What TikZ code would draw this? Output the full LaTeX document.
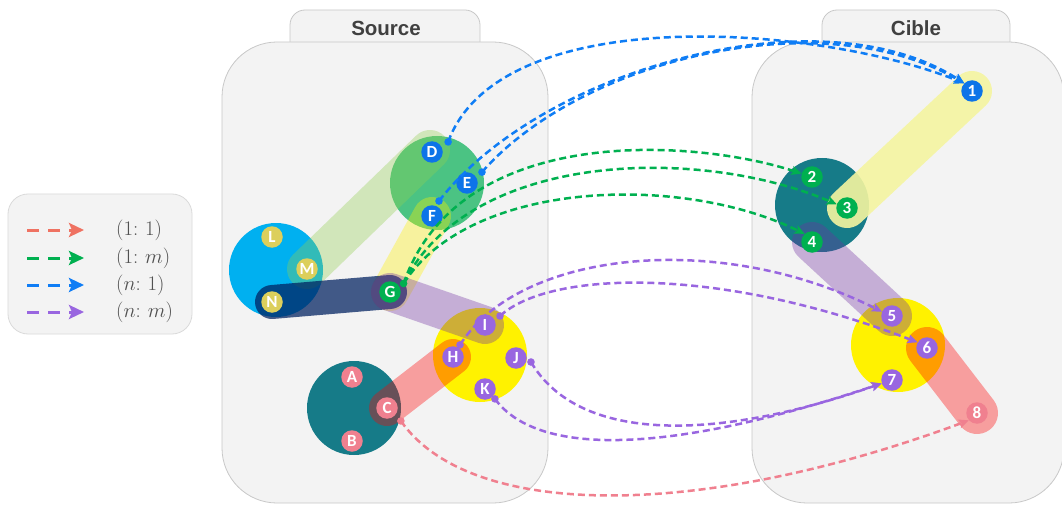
\documentclass[tikz,border=0pt]{standalone}
\usepackage{fontspec}
\newfontfamily\lblfont{Carlito}
\newfontfamily\titlefont{Liberation Sans}
\usetikzlibrary{arrows.meta,calc}
\definecolor{panelfill}{HTML}{F3F3F3}
\definecolor{panelline}{HTML}{C8C8C8}
\definecolor{legline}{HTML}{DADADA}
\definecolor{titlec}{HTML}{404040}
\definecolor{legtextc}{HTML}{505050}
\definecolor{bluec}{HTML}{0F7DF5}
\definecolor{bluelab}{HTML}{0D74E8}
\definecolor{greenc}{HTML}{00B050}
\definecolor{purplec}{HTML}{9966E0}
\definecolor{pinkc}{HTML}{F0808F}
\definecolor{salmonc}{HTML}{EF7262}
\definecolor{yellowlab}{HTML}{DCCF5C}
\definecolor{cyanc}{HTML}{00B0F0}
\definecolor{tealc}{HTML}{167B88}
\definecolor{greencirc}{HTML}{4BC383}
\definecolor{lgband}{HTML}{92D050}
\definecolor{navyband}{HTML}{002060}
\definecolor{purpband}{HTML}{7030A0}
\definecolor{paleyel}{HTML}{F5F5A0}
\tikzset{
  panel/.style={fill=panelfill, draw=panelline, line width=0.8pt},
  legbox/.style={fill=panelfill, draw=legline, line width=0.8pt, rounded corners=20pt},
  title/.style={text=titlec, font=\titlefont\bfseries\fontsize{20.5}{20.5}\selectfont},
  region/.style={circle, inner sep=0pt, minimum size=94pt},
  band/.style={line cap=round, opacity=0.35},
  lbl/.style={circle, inner sep=0pt, minimum size=21.5pt, text=white, font=\lblfont\bfseries\fontsize{17}{17}\selectfont},
  conn/.style={line width=2.5pt, dash pattern=on 7pt off 4pt, -{Stealth[length=10pt,width=9pt,inset=2pt]}},
  legarrow/.style={line width=3pt, dash pattern=on 12pt off 9pt, -{Stealth[length=15pt,width=14pt,inset=3pt]}},
  legtext/.style={anchor=west, inner sep=0pt, text=legtextc, font=\fontsize{22}{22}\selectfont},
  dotc/.style={radius=3.8pt}
}
\begin{document}
\begin{tikzpicture}[x=1pt,y=-1pt]
\useasboundingbox (0,0) rectangle (1062,505);
\fill[white] (0,0) rectangle (1062,505);

% legend
\draw[legbox] (8,194) rectangle (192,334);
\coordinate (la1) at (27,230); \coordinate (lb1) at (84,230);
\coordinate (la2) at (27,258); \coordinate (lb2) at (84,258);
\coordinate (la3) at (27,285); \coordinate (lb3) at (84,285);
\coordinate (la4) at (27,312); \coordinate (lb4) at (84,312);
\draw[legarrow, salmonc] (la1) -- (lb1);
\draw[legarrow, greenc] (la2) -- (lb2);
\draw[legarrow, bluec] (la3) -- (lb3);
\draw[legarrow, purplec] (la4) -- (lb4);
\node[legtext] (lt1) at (116,230) {$(1\colon\, 1)$};
\node[legtext] (lt2) at (116,258) {$(1\colon\, m)$};
\node[legtext] (lt3) at (116,285) {$(n\colon\, 1)$};
\node[legtext] (lt4) at (116,312) {$(n\colon\, m)$};

% tabs and panels
\filldraw[panel, rounded corners=15pt] (290,44) -- (290,10) -- (480,10) -- (480,44);
\filldraw[panel, rounded corners=15pt] (822,44) -- (822,10) -- (1010,10) -- (1010,44);
\draw[panel, rounded corners=55pt] (222,42) rectangle (548,503);
\draw[panel, rounded corners=55pt] (752,42) rectangle (1064,503);
\node[title] (srcT) at (386,28) {Source};
\node[title] (cibT) at (916,28) {Cible};

% region circles
\node[region, fill=cyanc] (rcy) at (276,270) {};
\node[region, fill=greencirc] (rgr) at (437,183) {};
\node[region, fill=tealc] (rte) at (354,408) {};
\node[region, fill=yellow] (rye) at (480,355) {};
\node[region, fill=tealc] (rte2) at (822,205) {};
\node[region, fill=yellow] (rye2) at (898,345) {};

% label positions
\coordinate (pL) at (272,237); \coordinate (pM) at (307,269); \coordinate (pN) at (272,302);
\coordinate (pD) at (432,152); \coordinate (pE) at (467,183); \coordinate (pF) at (432,216);
\coordinate (pG) at (390,292);
\coordinate (pA) at (352,377); \coordinate (pB) at (352,441); \coordinate (pC) at (387,408);
\coordinate (pH) at (453,357); \coordinate (pI) at (485,325); \coordinate (pJ) at (516,358); \coordinate (pK) at (485,389);
\coordinate (p1) at (972,91); \coordinate (p2) at (812,177); \coordinate (p3) at (847,208); \coordinate (p4) at (812,242);
\coordinate (p5) at (892,316); \coordinate (p6) at (927,348); \coordinate (p7) at (892,380); \coordinate (p8) at (977,413);

% bands
\draw[band, lgband, line width=40pt] (pM) -- (430,150);
\draw[band, yellow, line width=38pt] (pF) -- (pG);
\draw[line cap=round, navyband, opacity=0.73, line width=34pt] (pN) -- (pG);
\draw[band, purpband, line width=38pt] (pG) -- (pI);
\draw[band, red, line width=36pt] (pC) -- (pH);
\draw[line cap=round, paleyel, opacity=0.9, line width=40pt] (p3) -- (p1);
\draw[band, purpband, line width=40pt] (p4) -- (p5);
\draw[band, red, line width=42pt] (p6) -- (p8);

% labels
\node[lbl, fill=yellowlab] (L) at (pL) {L};
\node[lbl, fill=yellowlab] (M) at (pM) {M};
\node[lbl, fill=yellowlab] (N) at (pN) {N};
\node[lbl, fill=bluelab] (D) at (pD) {D};
\node[lbl, fill=bluelab] (E) at (pE) {E};
\node[lbl, fill=bluelab] (F) at (pF) {F};
\node[lbl, fill=greenc] (G) at (pG) {G};
\node[lbl, fill=pinkc] (A) at (pA) {A};
\node[lbl, fill=pinkc] (B) at (pB) {B};
\node[lbl, fill=pinkc] (C) at (pC) {C};
\node[lbl, fill=purplec] (H) at (pH) {H};
\node[lbl, fill=purplec] (I) at (pI) {I};
\node[lbl, fill=purplec] (J) at (pJ) {J};
\node[lbl, fill=purplec] (K) at (pK) {K};
\node[lbl, fill=bluelab] (n1) at (p1) {1};
\node[lbl, fill=greenc] (n2) at (p2) {2};
\node[lbl, fill=greenc] (n3) at (p3) {3};
\node[lbl, fill=greenc] (n4) at (p4) {4};
\node[lbl, fill=purplec] (n5) at (p5) {5};
\node[lbl, fill=purplec] (n6) at (p6) {6};
\node[lbl, fill=purplec] (n7) at (p7) {7};
\node[lbl, fill=pinkc] (n8) at (p8) {8};

% connector start points
\coordinate (Ds) at ($(D)+(32:19pt)$);
\coordinate (Es) at ($(E)+(36:18.5pt)$);
\coordinate (Fs) at ($(F)+(65:16.5pt)$);
\coordinate (Gs) at ($(G)+(32:16pt)$);
\coordinate (Hs) at ($(H)+(60:14pt)$);
\coordinate (Is) at ($(I)+(31:17.5pt)$);
\coordinate (Js) at ($(J)+(-15:15.5pt)$);
\coordinate (Ks) at ($(K)+(-45:14pt)$);
\coordinate (Cs) at ($(C)+(-43:19pt)$);

% connectors (n:1)
\draw[conn, bluec] (Ds) .. controls (500,0) and (820,25) .. (n1.135);
\draw[conn, bluec] (Es) .. controls (580,60) and (820,0) .. (n1.135);
\draw[conn, bluec] (Fs) .. controls (540,70) and (820,-10) .. (n1.135);
% (1:m)
\draw[conn, greenc] (Gs) .. controls (460,120) and (700,140) .. (n2.162);
\draw[conn, greenc] (Gs) .. controls (470,150) and (700,146) .. (n3.160);
\draw[conn, greenc] (Gs) .. controls (470,180) and (680,173) .. (n4.132);
% (n:m)
\draw[conn, purplec] (Hs) .. controls (520,250) and (720,230) .. (n5.157);
\draw[conn, purplec] (Is) .. controls (550,270) and (720,266) .. (n6.149);
\draw[conn, purplec] (Js) .. controls (580,445) and (720,440) .. (n7.198);
\draw[conn, purplec] (Ks) .. controls (540,460) and (680,451) .. (n7.198);
% (1:1)
\draw[conn, pinkc] (Cs) .. controls (470,520) and (700,520) .. (n8.222);

% start dots
\fill[bluec] (Ds) circle[dotc];
\fill[bluec] (Es) circle[dotc];
\fill[bluec] (Fs) circle[dotc];
\fill[greenc] (Gs) circle[dotc];
\fill[purplec] (Hs) circle[dotc];
\fill[purplec] (Is) circle[dotc];
\fill[purplec] (Js) circle[dotc];
\fill[purplec] (Ks) circle[dotc];
\fill[pinkc] (Cs) circle[dotc];
\end{tikzpicture}
\end{document}
